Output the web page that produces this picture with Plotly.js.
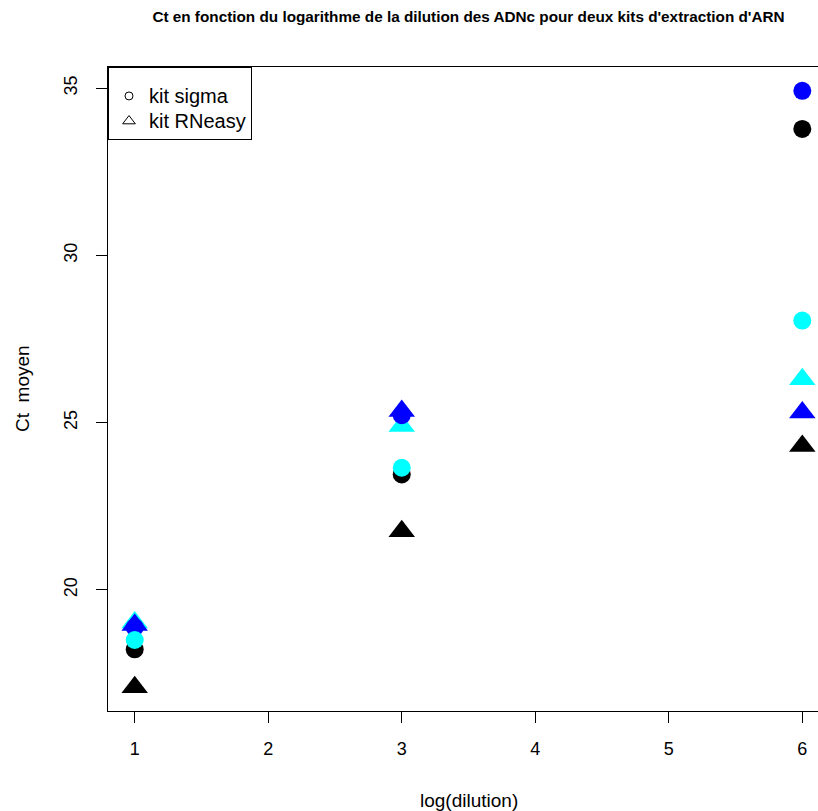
<!DOCTYPE html>
<html>
<head>
<meta charset="utf-8">
<script src="https://cdn.plot.ly/plotly-3.0.1.min.js"></script>
<style>
html, body { margin: 0; padding: 0; overflow: hidden; background: #fff; }
#chart { width: 840px; height: 811px; }
</style>
</head>
<body>
<div id="chart"></div>
<script>
// Data
const dilution = [1, 3, 6];
const colors = ["#000000", "#0000FF", "#00FFFF"];
// kit sigma (circles), one series per colour
const sigmaBlack = [18.22, 23.45, 33.78];
const sigmaBlue  = [18.88, 25.22, 34.92];
const sigmaCyan  = [18.50, 23.65, 28.05];
// kit RNeasy (triangles)
const rneasyBlack = [17.09, 21.75, 24.30];
const rneasyBlue  = [18.95, 25.35, 25.30];
const rneasyCyan  = [19.02, 24.90, 26.30];
const xTicks = [1, 2, 3, 4, 5, 6];
const yTicks = [20, 25, 30, 35];
const legendNames = ["kit sigma", "kit RNeasy"];

const allY = [].concat(sigmaBlack, sigmaBlue, sigmaCyan, rneasyBlack, rneasyBlue, rneasyCyan);
const yMin = Math.min(...allY), yMax = Math.max(...allY);
const yPad = 0.04 * (yMax - yMin);
const xMin = Math.min(...dilution), xMax = Math.max(...dilution);
const xPad = 0.04 * (xMax - xMin);

function pts(y, color, symbol, size) {
  return {
    x: dilution, y: y, type: "scatter", mode: "markers", showlegend: false,
    hoverinfo: "x+y",
    marker: { color: color, symbol: symbol, size: size, line: { width: 0 } }
  };
}

const triSize = 23, circSize = 18;
const big = s => '<span style="font-size:20px">' + s + '</span>';
const traces = [
  pts(rneasyBlack, colors[0], "triangle-up", triSize),
  pts(rneasyCyan, colors[2], "triangle-up", triSize),
  pts(rneasyBlue, colors[1], "triangle-up", triSize),
  pts(sigmaBlack, colors[0], "circle", circSize),
  pts(sigmaBlue, colors[1], "circle", circSize),
  pts(sigmaCyan, colors[2], "circle", circSize),
  { x: [null], y: [null], type: "scatter", mode: "markers", name: big(legendNames[0]),
    marker: { symbol: "circle-open", size: 8, color: "#000", line: { width: 1, color: "#000" } } },
  { x: [null], y: [null], type: "scatter", mode: "markers", name: big(legendNames[1]),
    marker: { symbol: "triangle-up-open", size: 11, color: "#000", line: { width: 1, color: "#000" } } }
];

const font = "Liberation Sans, Arial, sans-serif";
const layout = {
  width: 840, height: 811,
  margin: { l: 108, r: 11, t: 67, b: 100 },
  paper_bgcolor: "#fff", plot_bgcolor: "#fff",
  font: { family: font, color: "#000", size: 18 },
  title: {
    text: "<b>Ct en fonction du logarithme de la dilution des ADNc pour deux kits d'extraction d'ARN</b>",
    font: { family: font, size: 15.3, color: "#000" },
    x: 0.5, xref: "paper", xanchor: "center",
    y: 1 - 17 / 811, yref: "container", yanchor: "middle"
  },
  xaxis: {
    range: [xMin - xPad, xMax + xPad], tickmode: "array", tickvals: xTicks, ticktext: xTicks.map(String),
    showgrid: false, zeroline: false, showline: true, mirror: true, linecolor: "#000", linewidth: 1,
    ticks: "outside", ticklen: 11, tickcolor: "#000", tickwidth: 1,
    tickfont: { family: font, size: 18, color: "#000" }, ticklabelstandoff: 10
  },
  yaxis: {
    range: [yMin - yPad, yMax + yPad], tickmode: "array", tickvals: yTicks, ticktext: yTicks.map(String),
    showgrid: false, zeroline: false, showline: true, mirror: true, linecolor: "#000", linewidth: 1,
    ticks: "outside", ticklen: 11, tickcolor: "#000", tickwidth: 1, tickangle: -90,
    tickfont: { family: font, size: 18, color: "#000" }, ticklabelstandoff: 12
  },
  showlegend: true,
  legend: {
    x: 0, y: 1, xref: "paper", yref: "paper", xanchor: "left", yanchor: "top",
    bgcolor: "#fff", bordercolor: "#000", borderwidth: 1,
    font: { family: font, size: 17, color: "#000" }, itemwidth: 30, tracegroupgap: 0,
    title: { text: "&nbsp;", font: { family: font, size: 8, color: "#000" } }
  },
  annotations: [
    { text: "log(dilution)", xref: "paper", yref: "paper", x: 0.5, y: 0, xanchor: "center", yanchor: "middle",
      yshift: -89, showarrow: false, font: { family: font, size: 19, color: "#000" } },
    { text: "Ct  moyen", xref: "paper", yref: "paper", x: 0, y: 0.5, xanchor: "center", yanchor: "middle",
      xshift: -86, textangle: -90, showarrow: false, font: { family: font, size: 19, color: "#000" } }
  ]
};

Plotly.newPlot("chart", traces, layout, { staticPlot: true, displayModeBar: false });
</script>
</body>
</html>
